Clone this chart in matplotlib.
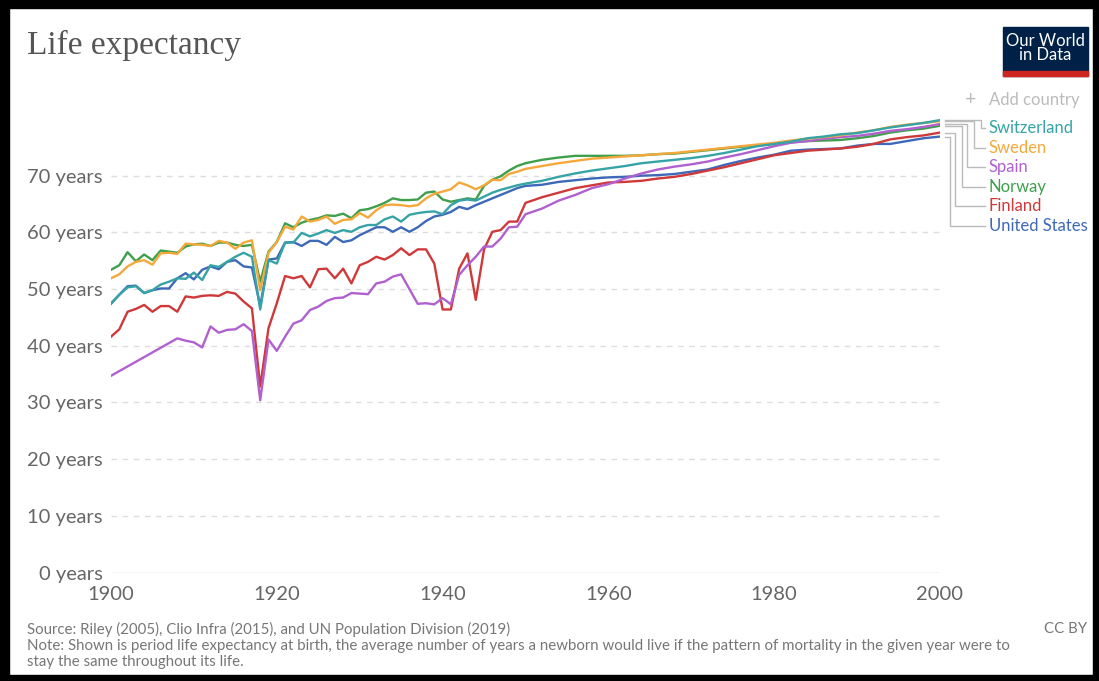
import matplotlib
matplotlib.use("Agg")
import matplotlib.pyplot as plt
from matplotlib.patches import Rectangle
import numpy as np

nan = np.nan

# years: annual to 1950, then every second year
years = list(range(1900, 1951)) + list(range(1952, 2001, 2))

sweden = [51.9, 52.6, 54.0, 54.8, 55.1, 54.3, 56.3, 56.4, 56.2, 58.0,
          57.9, 57.8, 57.6, 58.5, 58.2, 57.1, 58.2, 58.6, 49.8, 56.4,
          58.3, 61.0, 60.5, 62.8, 61.9, 62.2, 62.8, 61.5, 62.2, 62.3,
          63.4, 62.6, 63.9, 64.8, 64.9, 64.8, 64.6, 64.8, 66.0, 66.8,
          67.2, 67.6, 68.8, 68.3, 67.6, 68.3, 69.3, 69.2, 70.3, 70.7,
          71.2,
          71.7, 72.2, 72.6, 73.0, 73.2, 73.4, 73.6, 73.8, 74.0, 74.3, 74.6, 74.9, 75.2,
          75.5, 75.8, 76.2, 76.5, 76.8, 77.1, 77.6, 78.0, 78.6, 79.0, 79.3, 79.6]

norway = [53.4, 54.2, 56.5, 54.9, 56.1, 55.1, 56.8, 56.6, 56.4, 57.5,
          57.9, 58.0, 57.6, 58.2, 58.2, 57.8, 57.6, 57.8, 51.3, 56.6,
          58.3, 61.6, 60.9, 61.7, 62.2, 62.5, 63.0, 62.9, 63.3, 62.5,
          63.9, 64.1, 64.6, 65.2, 66.0, 65.7, 65.7, 65.8, 67.0, 67.2,
          65.8, 65.4, 65.7, 66.0, 65.8, 68.2, 69.3, 69.9, 70.9, 71.7,
          72.2,
          72.8, 73.2, 73.5, 73.5, 73.5, 73.5, 73.6, 73.8, 73.9, 74.2, 74.5, 74.8, 75.1,
          75.3, 75.6, 75.9, 76.1, 76.2, 76.3, 76.6, 77.0, 77.6, 78.0, 78.3, 78.8]

switzerland = [47.5, 49.0, 50.3, 50.5, 49.3, 49.8, 50.8, 51.3, 51.9, 51.8,
               52.9, 51.6, 54.2, 53.9, 54.8, 55.7, 56.4, 55.7, 46.4, 55.1,
               54.5, 58.2, 58.2, 59.9, 59.3, 59.8, 60.4, 59.9, 60.4, 60.1,
               60.9, 61.3, 61.3, 62.3, 62.8, 61.9, 63.1, 63.4, 63.6, 63.7,
               63.2, 64.8, 65.6, 65.8, 65.6, 66.3, 67.0, 67.5, 67.9, 68.3,
               68.6,
               69.1, 69.8, 70.4, 70.9, 71.3, 71.7, 72.2, 72.5, 72.8, 73.1, 73.5, 74.0, 74.6,
               75.2, 75.6, 76.0, 76.6, 76.9, 77.3, 77.5, 78.0, 78.5, 78.9, 79.3, 79.8]

us = [47.4, 49.0, 50.5, 50.6, 49.3, 49.8, 50.1, 50.1, 51.9, 52.8,
      51.7, 53.4, 54.0, 53.5, 54.8, 55.1, 54.0, 53.8, 47.0, 55.2,
      55.4, 58.2, 58.3, 57.6, 58.5, 58.5, 57.8, 59.2, 58.3, 58.6,
      59.5, 60.2, 60.9, 60.9, 60.1, 60.9, 60.1, 60.9, 62.0, 62.8,
      63.1, 63.6, 64.5, 64.1, 64.8, 65.4, 66.0, 66.6, 67.2, 67.8,
      68.2,
      68.4, 68.9, 69.2, 69.5, 69.7, 69.8, 70.0, 70.1, 70.3, 70.7, 71.1, 71.9, 72.6,
      73.2, 73.7, 74.4, 74.6, 74.7, 74.8, 75.3, 75.6, 75.6, 76.1, 76.6, 76.9]

finland = [41.6, 42.9, 46.0, 46.5, 47.2, 46.0, 47.0, 47.0, 46.0, 48.7,
           48.5, 48.8, 48.9, 48.8, 49.5, 49.2, 47.8, 46.6, 32.8, 43.1,
           47.5, 52.3, 51.9, 52.3, 50.3, 53.5, 53.6, 51.9, 53.6, 51.0,
           54.2, 54.8, 55.7, 55.2, 56.0, 57.2, 56.0, 57.0, 57.0, 54.5,
           46.4, 46.4, 53.6, 56.3, 48.1, 57.0, 60.1, 60.4, 61.9, 61.9,
           65.2,
           66.2, 67.0, 67.8, 68.3, 68.8, 68.9, 69.1, 69.5, 69.8, 70.3, 70.9, 71.5, 72.2,
           72.9, 73.6, 74.0, 74.4, 74.6, 74.8, 75.1, 75.6, 76.4, 76.8, 77.1, 77.6]

spain = [34.7, nan, nan, nan, nan, nan, nan, nan, 41.3, 40.9,
         40.6, 39.7, 43.4, 42.3, 42.8, 42.9, 43.8, 42.6, 30.4, 41.1,
         39.1, 41.6, 43.9, 44.5, 46.3, 46.9, 47.9, 48.4, 48.5, 49.3,
         49.2, 49.1, 51.0, 51.3, 52.2, 52.6, 50.0, 47.4, 47.5, 47.3,
         48.4, 47.3, 52.5, 54.2, 55.7, 57.5, 57.5, 58.9, 60.9, 61.0,
         63.2,
         64.2, 65.6, 66.6, 67.8, 68.5, 69.5, 70.4, 71.1, 71.6, 72.0, 72.5, 73.2, 73.8,
         74.5, 75.2, 75.8, 76.1, 76.5, 76.8, 77.0, 77.4, 77.9, 78.2, 78.6, 79.1]

countries = ["Switzerland", "Sweden", "Spain", "Norway", "Finland", "United States"]
series = [switzerland, sweden, spain, norway, finland, us]
colors = ["#36a3a6", "#f5a83a", "#b061cf", "#3f9f4c", "#d0393a", "#3d69b8"]
label_y = [78.4, 74.9, 71.5, 68.0, 64.7, 61.1]
elbow_x = [2004.9, 2004.1, 2003.3, 2002.6, 2001.8, 2001.2]

yticks = [0, 10, 20, 30, 40, 50, 60, 70]
xticks = [1900, 1920, 1940, 1960, 1980, 2000]

plt.rcParams['font.family'] = ['Lato', 'DejaVu Sans']

fig = plt.figure(figsize=(10.99, 6.81), dpi=100)
ax = fig.add_axes([0.1010, 0.1593, 0.7543, 0.6743])

yrs = np.array(years)
# draw from bottom of legend up so Switzerland ends on top
for name, vals, c in reversed(list(zip(countries, series, colors))):
    v = np.array(vals, dtype=float)
    m = np.isfinite(v)
    ax.plot(yrs[m], v[m], color=c, lw=1.7, solid_joinstyle='round', zorder=3)

ax.set_xlim(1900, 2000)
ax.set_ylim(0, 81)
ax.set_xticks(xticks)
ax.set_xticklabels([str(x) for x in xticks])
ax.set_yticks(yticks)
ax.set_yticklabels([f"{y} years" for y in yticks])
ax.tick_params(length=0, labelsize=14.5, colors="#666666")
ax.tick_params(axis='x', pad=10)
ax.tick_params(axis='y', pad=6)
for s in ax.spines.values():
    s.set_visible(False)
for y in yticks[1:]:
    ax.axhline(y, color="#dddddd", lw=1, ls=(0, (4, 4)), zorder=1)
ax.axhline(0, color="#cccccc", lw=1, zorder=1)

# connectors + labels on the right
for name, vals, c, ly, ex in zip(countries, series, colors, label_y, elbow_x):
    end = vals[-1]
    ax.plot([2000.6, ex, ex, 2005.4], [end, end, ly, ly], color="#bbbbbb",
            lw=1, clip_on=False, zorder=2)
    ax.text(2005.9, ly, name, color=c, fontsize=12, va='center', ha='left',
            clip_on=False)

ax.text(2003.0, 83.5, "+", color="#bbbbbb", fontsize=14, va='center', ha='left')
ax.text(2005.9, 83.3, "Add country", color="#bbbbbb", fontsize=12, va='center', ha='left')

# title
fig.text(27 / 1099, 1 - 45 / 681, "Life expectancy", family=['Liberation Serif', 'DejaVu Serif'],
         fontsize=24, color="#555555", va='center', ha='left')

# logo
fig.patches.append(Rectangle((1003 / 1099, 1 - 76 / 681), 85 / 1099, 49 / 681,
                             transform=fig.transFigure, color="#002147", zorder=1))
fig.patches.append(Rectangle((1003 / 1099, 1 - 76 / 681), 85 / 1099, 5 / 681,
                             transform=fig.transFigure, color="#ce261e", zorder=2))
fig.text(1045.5 / 1099, 1 - 48 / 681, "Our World\nin Data", color="white", fontsize=12,
         ha='center', va='center', linespacing=0.9)

# footer
foot = "#777777"
fs = 10.8
fig.text(27 / 1099, 1 - 629 / 681, "Source: Riley (2005), Clio Infra (2015), and UN Population Division (2019)",
         color=foot, fontsize=fs, va='center', ha='left')
fig.text(27 / 1099, 1 - 646 / 681, "Note: Shown is period life expectancy at birth, the average number of years a newborn would live if the pattern of mortality in the given year were to",
         color=foot, fontsize=fs, va='center', ha='left')
fig.text(27 / 1099, 1 - 662 / 681, "stay the same throughout its life.",
         color=foot, fontsize=fs, va='center', ha='left')
fig.text(1087 / 1099, 1 - 629 / 681, "CC BY", color=foot, fontsize=fs, va='center', ha='right')

# black frame
for (x0, y0, w, h) in [(0, 0, 9, 681), (0, 0, 1099, 6), (1093, 0, 6, 681), (0, 673, 1099, 8)]:
    fig.patches.append(Rectangle((x0 / 1099, y0 / 681), w / 1099, h / 681,
                                 transform=fig.transFigure, color="black", zorder=5))

fig.savefig("out.png", dpi=100)
